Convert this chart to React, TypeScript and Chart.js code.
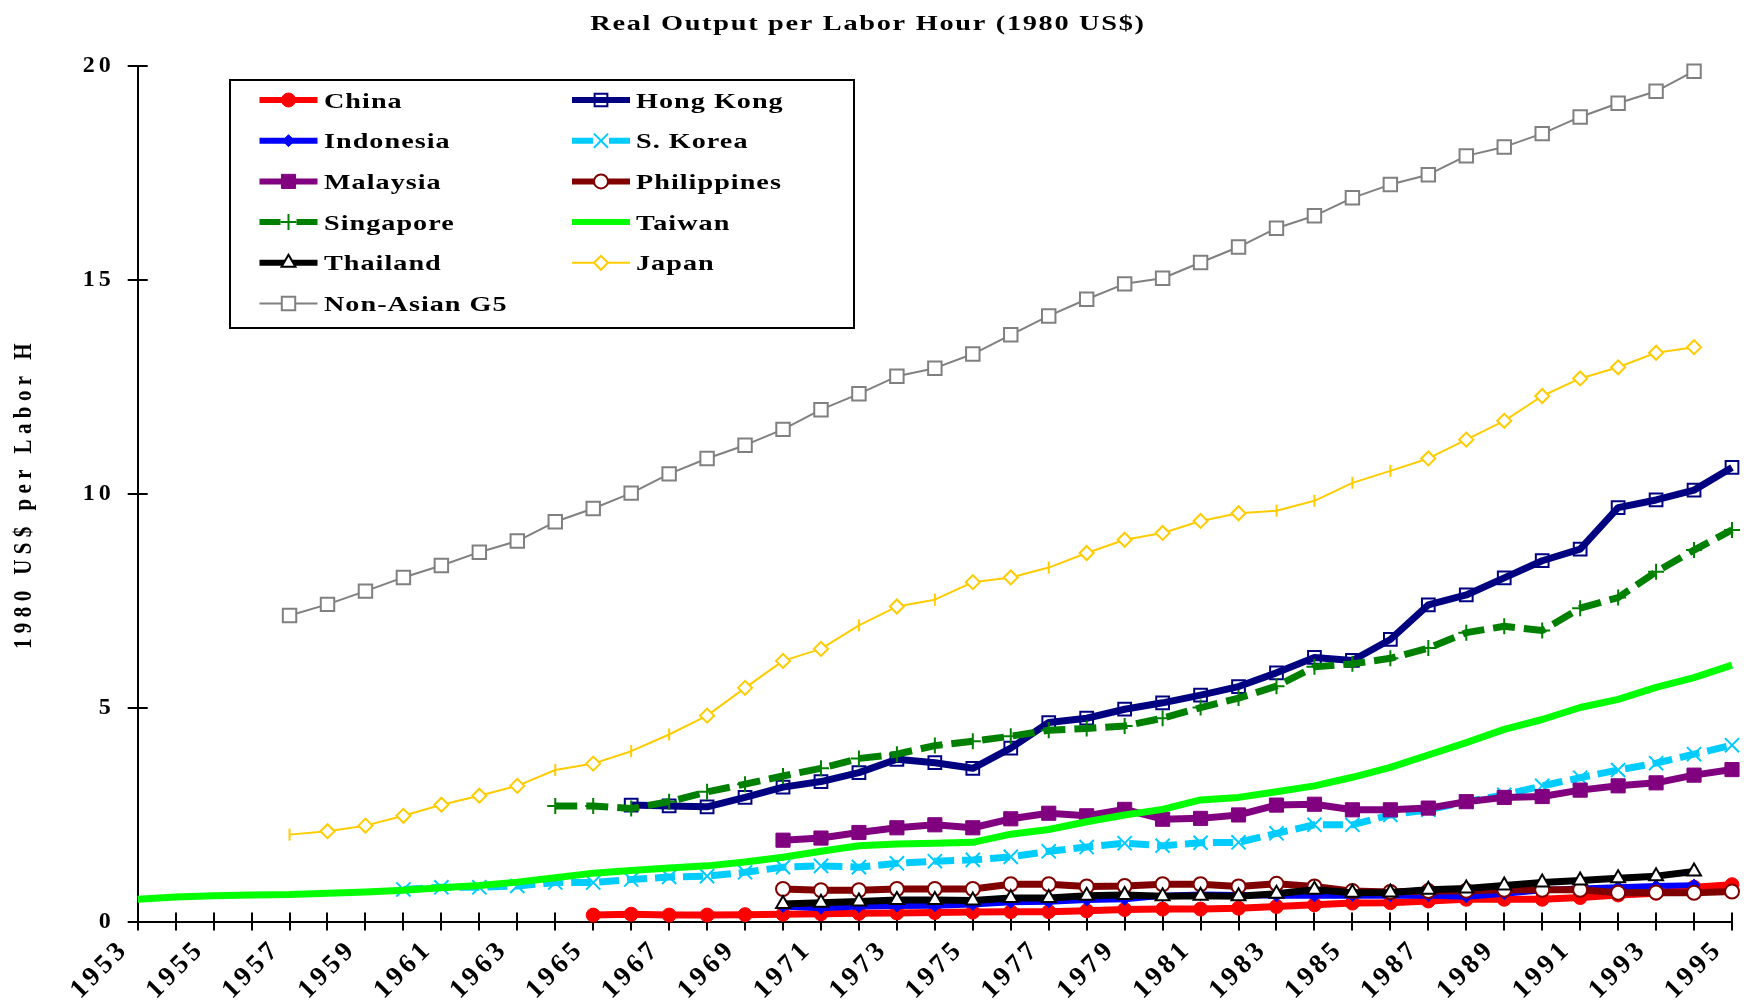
import React, { useEffect, useRef } from 'react';
import { Chart, registerables } from 'chart.js';

Chart.register(...registerables);

// ---------- DATA ----------
const YEARS: number[] = [
  1953, 1954, 1955, 1956, 1957, 1958, 1959, 1960, 1961, 1962, 1963, 1964, 1965, 1966, 1967,
  1968, 1969, 1970, 1971, 1972, 1973, 1974, 1975, 1976, 1977, 1978, 1979, 1980, 1981, 1982,
  1983, 1984, 1985, 1986, 1987, 1988, 1989, 1990, 1991, 1992, 1993, 1994, 1995,
];

const TITLE = 'Real Output per Labor Hour (1980 US$)';
const Y_TITLE = '1980 US$ per Labor H';
const Y_TICKS = [0, 5, 10, 15, 20];

const CHINA_START = 1965;
const CHINA = [0.15, 0.17, 0.15, 0.15, 0.16, 0.17, 0.18, 0.19, 0.2, 0.21, 0.22, 0.23, 0.23, 0.25, 0.28, 0.29,
  0.29, 0.31, 0.35, 0.39, 0.43, 0.44, 0.48, 0.52, 0.52, 0.52, 0.56, 0.62, 0.66, 0.8, 0.86];

const HONGKONG_START = 1966;
const HONGKONG = [2.72, 2.7, 2.68, 2.9, 3.14, 3.27, 3.48, 3.79, 3.71, 3.58, 4.05, 4.65, 4.75, 4.96, 5.11,
  5.29, 5.49, 5.81, 6.17, 6.1, 6.59, 7.4, 7.63, 8.03, 8.43, 8.7, 9.67, 9.85, 10.08, 10.61];

const INDONESIA_START = 1970;
const INDONESIA = [0.35, 0.31, 0.35, 0.36, 0.37, 0.4, 0.45, 0.46, 0.5, 0.52, 0.6, 0.63, 0.62, 0.6, 0.6,
  0.61, 0.6, 0.61, 0.58, 0.65, 0.73, 0.77, 0.8, 0.83, 0.85];

const SKOREA_START = 1960;
const SKOREA = [0.75, 0.8, 0.8, 0.83, 0.91, 0.91, 0.98, 1.04, 1.06, 1.15, 1.27, 1.3, 1.27, 1.36, 1.41, 1.44,
  1.51, 1.64, 1.74, 1.83, 1.77, 1.84, 1.85, 2.06, 2.26, 2.26, 2.49, 2.61, 2.8, 2.96, 3.17, 3.36, 3.54, 3.7,
  3.91, 4.12];

const MALAYSIA_START = 1970;
const MALAYSIA = [1.9, 1.95, 2.08, 2.19, 2.26, 2.19, 2.4, 2.53, 2.47, 2.62, 2.39, 2.41, 2.49, 2.72, 2.74,
  2.61, 2.61, 2.65, 2.8, 2.9, 2.92, 3.07, 3.17, 3.24, 3.42, 3.55];

const PHILIPPINES_START = 1970;
const PHILIPPINES = [0.76, 0.73, 0.73, 0.76, 0.76, 0.76, 0.87, 0.87, 0.82, 0.83, 0.87, 0.87, 0.82, 0.88,
  0.82, 0.71, 0.69, 0.71, 0.72, 0.74, 0.74, 0.74, 0.67, 0.68, 0.67, 0.7];

const SINGAPORE_START = 1964;
const SINGAPORE = [2.7, 2.7, 2.64, 2.8, 3.03, 3.21, 3.4, 3.58, 3.81, 3.91, 4.11, 4.21, 4.33, 4.47, 4.51,
  4.57, 4.75, 5.0, 5.22, 5.5, 5.95, 6.02, 6.15, 6.39, 6.75, 6.9, 6.8, 7.32, 7.57, 8.17, 8.68, 9.15];

const TAIWAN_START = 1953;
const TAIWAN = [0.52, 0.57, 0.6, 0.62, 0.63, 0.66, 0.69, 0.73, 0.79, 0.84, 0.92, 1.02, 1.13, 1.19, 1.25,
  1.3, 1.39, 1.5, 1.64, 1.77, 1.81, 1.83, 1.85, 2.04, 2.15, 2.33, 2.49, 2.62, 2.84, 2.9, 3.03, 3.17, 3.37,
  3.6, 3.89, 4.18, 4.49, 4.72, 5.0, 5.19, 5.47, 5.7, 5.99];

const THAILAND_START = 1970;
const THAILAND = [0.41, 0.44, 0.47, 0.5, 0.5, 0.49, 0.55, 0.55, 0.6, 0.62, 0.59, 0.6, 0.59, 0.65, 0.74,
  0.67, 0.68, 0.74, 0.77, 0.84, 0.91, 0.96, 1.01, 1.06, 1.17];

const JAPAN_START = 1957;
const JAPAN = [2.03, 2.11, 2.24, 2.47, 2.73, 2.94, 3.17, 3.54, 3.69, 3.98, 4.37, 4.81, 5.46, 6.09, 6.37,
  6.92, 7.36, 7.52, 7.93, 8.04, 8.27, 8.61, 8.92, 9.08, 9.36, 9.54, 9.6, 9.83, 10.25, 10.53, 10.82, 11.26,
  11.7, 12.28, 12.69, 12.95, 13.29, 13.42];
// years where the Japan marker is drawn as a short vertical tick instead of a diamond
const JAPAN_TICK_YEARS = [1957, 1964, 1966, 1967, 1972, 1974, 1977, 1983, 1984, 1985, 1986];

const G5_START = 1957;
const G5 = [7.15, 7.41, 7.72, 8.04, 8.32, 8.63, 8.89, 9.34, 9.65, 10.01, 10.46, 10.82, 11.13, 11.5, 11.96,
  12.33, 12.74, 12.93, 13.26, 13.71, 14.15, 14.54, 14.9, 15.03, 15.4, 15.76, 16.2, 16.49, 16.91, 17.22,
  17.45, 17.89, 18.1, 18.41, 18.8, 19.12, 19.4, 19.87];

// ---------- HELPERS ----------
const SERIF = '"Liberation Serif", "Times New Roman", Times, serif';

function pad(start: number, values: number[]): (number | null)[] {
  return YEARS.map((y) => {
    const k = y - start;
    return k >= 0 && k < values.length ? values[k] : null;
  });
}

type Style = {
  label: string;
  data: (number | null)[];
  color: string;
  width: number;
  dash: number[];
  marker: string | false;
  radius: number;
  fill: string;
  mbw: number;
};

const SERIES: Style[] = [
  { label: 'China', data: pad(CHINA_START, CHINA), color: '#FF0000', width: 7, dash: [], marker: 'circle', radius: 7, fill: '#FF0000', mbw: 1 },
  { label: 'Hong Kong', data: pad(HONGKONG_START, HONGKONG), color: '#000080', width: 7, dash: [], marker: 'rect', radius: 9, fill: 'rgba(0,0,0,0)', mbw: 2 },
  { label: 'Indonesia', data: pad(INDONESIA_START, INDONESIA), color: '#0000FF', width: 6, dash: [], marker: 'rectRot', radius: 6, fill: '#0000FF', mbw: 1 },
  { label: 'S. Korea', data: pad(SKOREA_START, SKOREA), color: '#00CCFF', width: 7, dash: [20, 8], marker: 'crossRot', radius: 10, fill: '#00CCFF', mbw: 2 },
  { label: 'Malaysia', data: pad(MALAYSIA_START, MALAYSIA), color: '#800080', width: 7, dash: [], marker: 'rect', radius: 10, fill: '#800080', mbw: 1 },
  { label: 'Philippines', data: pad(PHILIPPINES_START, PHILIPPINES), color: '#800000', width: 7, dash: [], marker: 'circle', radius: 7, fill: '#FFFFFF', mbw: 2 },
  { label: 'Singapore', data: pad(SINGAPORE_START, SINGAPORE), color: '#008000', width: 7, dash: [22, 9], marker: 'cross', radius: 8, fill: '#008000', mbw: 2 },
  { label: 'Taiwan', data: pad(TAIWAN_START, TAIWAN), color: '#00FF00', width: 7, dash: [], marker: false, radius: 0, fill: '#00FF00', mbw: 0 },
  { label: 'Thailand', data: pad(THAILAND_START, THAILAND), color: '#000000', width: 7, dash: [], marker: 'triangle', radius: 8, fill: '#FFFFFF', mbw: 2 },
  { label: 'Japan', data: pad(JAPAN_START, JAPAN), color: '#FFCC00', width: 2, dash: [], marker: 'rectRot', radius: 7, fill: '#FFFFFF', mbw: 2 },
  { label: 'Non-Asian G5', data: pad(G5_START, G5), color: '#808080', width: 2, dash: [], marker: 'rect', radius: 9.5, fill: '#FFFFFF', mbw: 2 },
];

function drawMarker(ctx: CanvasRenderingContext2D, style: string, x: number, y: number, r: number, fill: string, stroke: string, lw: number) {
  ctx.save();
  ctx.setLineDash([]);
  ctx.lineWidth = lw;
  ctx.strokeStyle = stroke;
  ctx.fillStyle = fill;
  ctx.beginPath();
  let closed = true;
  if (style === 'circle') {
    ctx.arc(x, y, r, 0, Math.PI * 2);
  } else if (style === 'rect') {
    const h = r * Math.SQRT1_2;
    ctx.rect(x - h, y - h, 2 * h, 2 * h);
  } else if (style === 'rectRot') {
    ctx.moveTo(x - r, y); ctx.lineTo(x, y - r); ctx.lineTo(x + r, y); ctx.lineTo(x, y + r); ctx.closePath();
  } else if (style === 'triangle') {
    for (let k = 0; k < 3; k++) {
      const a = -Math.PI / 2 + (k * 2 * Math.PI) / 3;
      const px = x + Math.cos(a) * r, py = y + Math.sin(a) * r;
      if (k === 0) ctx.moveTo(px, py); else ctx.lineTo(px, py);
    }
    ctx.closePath();
  } else if (style === 'cross') {
    ctx.moveTo(x - r, y); ctx.lineTo(x + r, y); ctx.moveTo(x, y - r); ctx.lineTo(x, y + r);
    closed = false;
  } else if (style === 'crossRot') {
    const h = r * Math.SQRT1_2;
    ctx.moveTo(x - h, y - h); ctx.lineTo(x + h, y + h); ctx.moveTo(x - h, y + h); ctx.lineTo(x + h, y - h);
    closed = false;
  }
  if (closed) ctx.fill();
  if (lw > 0) ctx.stroke();
  ctx.restore();
}

// text drawn wide (horizontally stretched glyphs, slight tracking)
function wideText(ctx: any, text: string, x: number, y: number, align: string, sx: number, spacing: string) {
  ctx.save();
  ctx.translate(x, y);
  ctx.scale(sx, 1);
  ctx.letterSpacing = spacing;
  ctx.textAlign = align;
  ctx.textBaseline = 'alphabetic';
  ctx.fillText(text, 0, 0);
  ctx.restore();
}

// Plugin: text spacing, crossing tick marks, title, y-axis title, boxed legend
const decorPlugin = {
  id: 'decor',
  beforeDraw(chart: any) {
    (chart.ctx as any).letterSpacing = '4px';
  },
  beforeDatasetsDraw(chart: any) {
    const ctx: CanvasRenderingContext2D = chart.ctx;
    const xs = chart.scales.x;
    const ys = chart.scales.y;
    const y0 = ys.getPixelForValue(0);
    const x0 = chart.chartArea.left;
    ctx.save();
    ctx.strokeStyle = '#000';
    ctx.lineWidth = 2;
    ctx.beginPath();
    YEARS.forEach((_, i) => {
      const px = Math.round(xs.getPixelForValue(i));
      ctx.moveTo(px, y0 - 9);
      ctx.lineTo(px, y0 + 9);
    });
    Y_TICKS.forEach((v) => {
      const py = Math.round(ys.getPixelForValue(v));
      ctx.moveTo(x0 - 10, py);
      ctx.lineTo(x0 + 10, py);
    });
    ctx.stroke();
    ctx.restore();
  },
  afterDraw(chart: any) {
    const ctx: any = chart.ctx;
    ctx.save();
    ctx.fillStyle = '#000';
    // title
    ctx.font = `bold 21px ${SERIF}`;
    wideText(ctx, TITLE, 868, 30, 'center', 1.35, '1.25px');

    // y-axis title (rotated)
    ctx.save();
    ctx.translate(31, (chart.chartArea.top + chart.chartArea.bottom) / 2);
    ctx.rotate(-Math.PI / 2);
    ctx.scale(1, 1.22);
    ctx.font = `bold 21px ${SERIF}`;
    ctx.letterSpacing = '5.4px';
    ctx.textAlign = 'center';
    ctx.textBaseline = 'alphabetic';
    ctx.fillText(Y_TITLE, 0, 0);
    ctx.restore();

    // legend box
    const bx = 230, by = 80, bw = 624, bh = 248;
    ctx.fillStyle = '#FFFFFF';
    ctx.fillRect(bx, by, bw, bh);
    ctx.strokeStyle = '#000';
    ctx.lineWidth = 2;
    ctx.strokeRect(bx, by, bw, bh);

    const datasets = chart.data.datasets;
    datasets.forEach((ds: any, i: number) => {
      const s = SERIES[i];
      const col = i % 2;
      const row = Math.floor(i / 2);
      const lx0 = col ? 572 : 259.5;
      const lx1 = col ? 630 : 317.5;
      const mid = (lx0 + lx1) / 2;
      const ly = 100 + row * 40.7;
      ctx.save();
      ctx.strokeStyle = ds.borderColor;
      ctx.lineWidth = s.width === 2 ? 2 : 6;
      ctx.lineCap = 'butt';
      ctx.beginPath();
      if (s.dash.length) {
        ctx.moveTo(lx0, ly); ctx.lineTo(mid - 8, ly);
        ctx.moveTo(mid + 8, ly); ctx.lineTo(lx1, ly);
      } else {
        ctx.moveTo(lx0, ly); ctx.lineTo(lx1, ly);
      }
      ctx.stroke();
      ctx.restore();
      if (s.marker) drawMarker(ctx, s.marker, mid, ly, s.radius, s.fill, s.color, s.mbw);
      ctx.fillStyle = '#000';
      ctx.font = `bold 22px ${SERIF}`;
      wideText(ctx, ds.label, col ? 636 : 324, ly + 7.5, 'left', 1.28, '0.8px');
    });
    ctx.restore();
  },
};

export default function App() {
  const ref = useRef<HTMLCanvasElement | null>(null);

  useEffect(() => {
    document.body.style.margin = '0';
    document.body.style.overflow = 'hidden';
    const canvas = ref.current;
    if (!canvas) return;

    const isTick = (c: any) => JAPAN_TICK_YEARS.includes(YEARS[c.dataIndex]);

    const datasets = SERIES.map((s, i) => {
      const base: any = {
        label: s.label,
        data: s.data,
        borderColor: s.color,
        backgroundColor: s.color,
        borderWidth: s.width,
        borderDash: s.dash,
        borderJoinStyle: 'round',
        borderCapStyle: 'butt',
        tension: 0,
        fill: false,
        spanGaps: false,
        clip: false,
        order: 20 - i,
        pointStyle: s.marker,
        pointRadius: s.radius,
        pointBackgroundColor: s.fill,
        pointBorderColor: s.color,
        pointBorderWidth: s.mbw,
        pointHoverRadius: s.radius,
      };
      if (s.label === 'Japan') {
        base.pointStyle = (c: any) => (isTick(c) ? 'line' : 'rectRot');
        base.pointRotation = (c: any) => (isTick(c) ? 90 : 0);
        base.pointRadius = (c: any) => (isTick(c) ? 6 : 7);
      }
      return base;
    });

    const chart = new Chart(canvas, {
      type: 'line',
      data: { labels: YEARS.map(String), datasets },
      options: {
        animation: false,
        responsive: false,
        devicePixelRatio: 1,
        events: [],
        layout: { padding: { top: 65.6, right: 0, left: 0, bottom: 0 } },
        plugins: {
          legend: { display: false },
          title: { display: false },
          tooltip: { enabled: false },
        },
        scales: {
          x: {
            type: 'category',
            offset: false,
            grid: { display: false, drawTicks: false },
            border: { display: true, color: '#000', width: 2 },
            ticks: {
              autoSkip: false,
              minRotation: 45,
              maxRotation: 45,
              padding: 12,
              labelOffset: -13,
              color: '#000',
              font: { family: SERIF, size: 27, weight: 'bold' },
              callback: (_v: any, i: number) => (i % 2 === 0 ? String(YEARS[i]) : ''),
            },
            afterFit: (s: any) => {
              s.height = 81.5;
              s.paddingLeft = 0;
              s.paddingRight = 0;
            },
          },
          y: {
            min: 0,
            max: 20,
            grid: { display: false, drawTicks: false },
            border: { display: true, color: '#000', width: 2 },
            ticks: {
              stepSize: 5,
              padding: 23,
              color: '#000',
              font: { family: SERIF, size: 24, weight: 'bold' },
            },
            afterFit: (s: any) => {
              s.width = 137.7;
              s.paddingTop = 0;
              s.paddingBottom = 0;
            },
          },
        },
      } as any,
      plugins: [decorPlugin as any],
    });

    return () => chart.destroy();
  }, []);

  return (
    <div style={{ width: 1744, height: 1003, background: '#FFFFFF' }}>
      <canvas ref={ref} width={1744} height={1003} style={{ display: 'block', width: 1744, height: 1003 }} />
    </div>
  );
}
